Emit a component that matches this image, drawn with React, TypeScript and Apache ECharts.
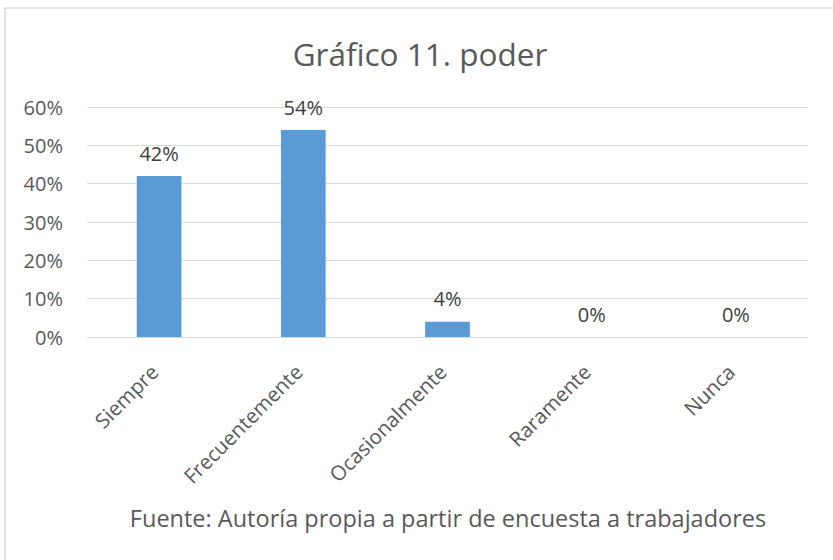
import React, { useEffect, useRef } from "react";
import * as echarts from "echarts";

const categories = ["Siempre", "Frecuentemente", "Ocasionalmente", "Raramente", "Nunca"];
const values = [42, 54, 4, 0, 0];
const yMax = 60;
const yInterval = 10;
const titleText = "Gráfico 11. poder";
const sourceText = "Fuente: Autoría propia a partir de encuesta a trabajadores";

const FONT = "'Open Sans', sans-serif";
const TEXT = "#595959";

export default function App() {
  const ref = useRef<HTMLDivElement>(null);
  useEffect(() => {
    if (!ref.current) return;
    const chart = echarts.init(ref.current, null, { renderer: "svg" });
    chart.setOption({
      animation: false,
      backgroundColor: "#ffffff",
      grid: { left: 87, right: 25, top: 107, bottom: 223, containLabel: false },
      xAxis: {
        type: "category",
        data: categories,
        axisLine: { show: true, lineStyle: { color: "#D9D9D9", width: 1 } },
        axisTick: { show: false },
        axisLabel: {
          rotate: 45,
          margin: 26,
          interval: 0,
          color: TEXT,
          fontFamily: FONT,
          fontSize: 20.5,
          padding: [0, 7, 0, 0],
        },
      },
      yAxis: {
        type: "value",
        min: 0,
        max: yMax,
        interval: yInterval,
        axisLine: { show: false },
        axisTick: { show: false },
        splitLine: { lineStyle: { color: "#D9D9D9", width: 1 } },
        axisLabel: {
          formatter: "{value}%",
          color: TEXT,
          fontFamily: FONT,
          fontSize: 20,
          margin: 24,
        },
      },
      series: [
        {
          type: "bar",
          data: values,
          barWidth: "31%",
          itemStyle: { color: "#5B9BD5" },
          label: {
            show: true,
            position: "top",
            distance: 13,
            formatter: "{c}%",
            color: "#404040",
            fontFamily: FONT,
            fontSize: 20,
          },
        },
      ],
      graphic: [
        {
          type: "rect",
          shape: { x: 5, y: 8, width: 900, height: 700 },
          style: { fill: "none", stroke: "#D9D9D9", lineWidth: 1.5 },
          silent: true,
        },
        {
          type: "text",
          x: 420,
          y: 53,
          style: {
            text: titleText,
            fill: TEXT,
            font: `31.5px ${FONT}`,
            textAlign: "center",
            textVerticalAlign: "middle",
          },
        },
        {
          type: "text",
          x: 448,
          y: 518,
          style: {
            text: sourceText,
            fill: TEXT,
            font: `23.5px ${FONT}`,
            textAlign: "center",
            textVerticalAlign: "middle",
          },
        },
      ],
    });
    return () => chart.dispose();
  }, []);
  return (
    <div
      ref={ref}
      style={{ position: "absolute", left: 0, top: 0, width: 833, height: 560 }}
    />
  );
}
